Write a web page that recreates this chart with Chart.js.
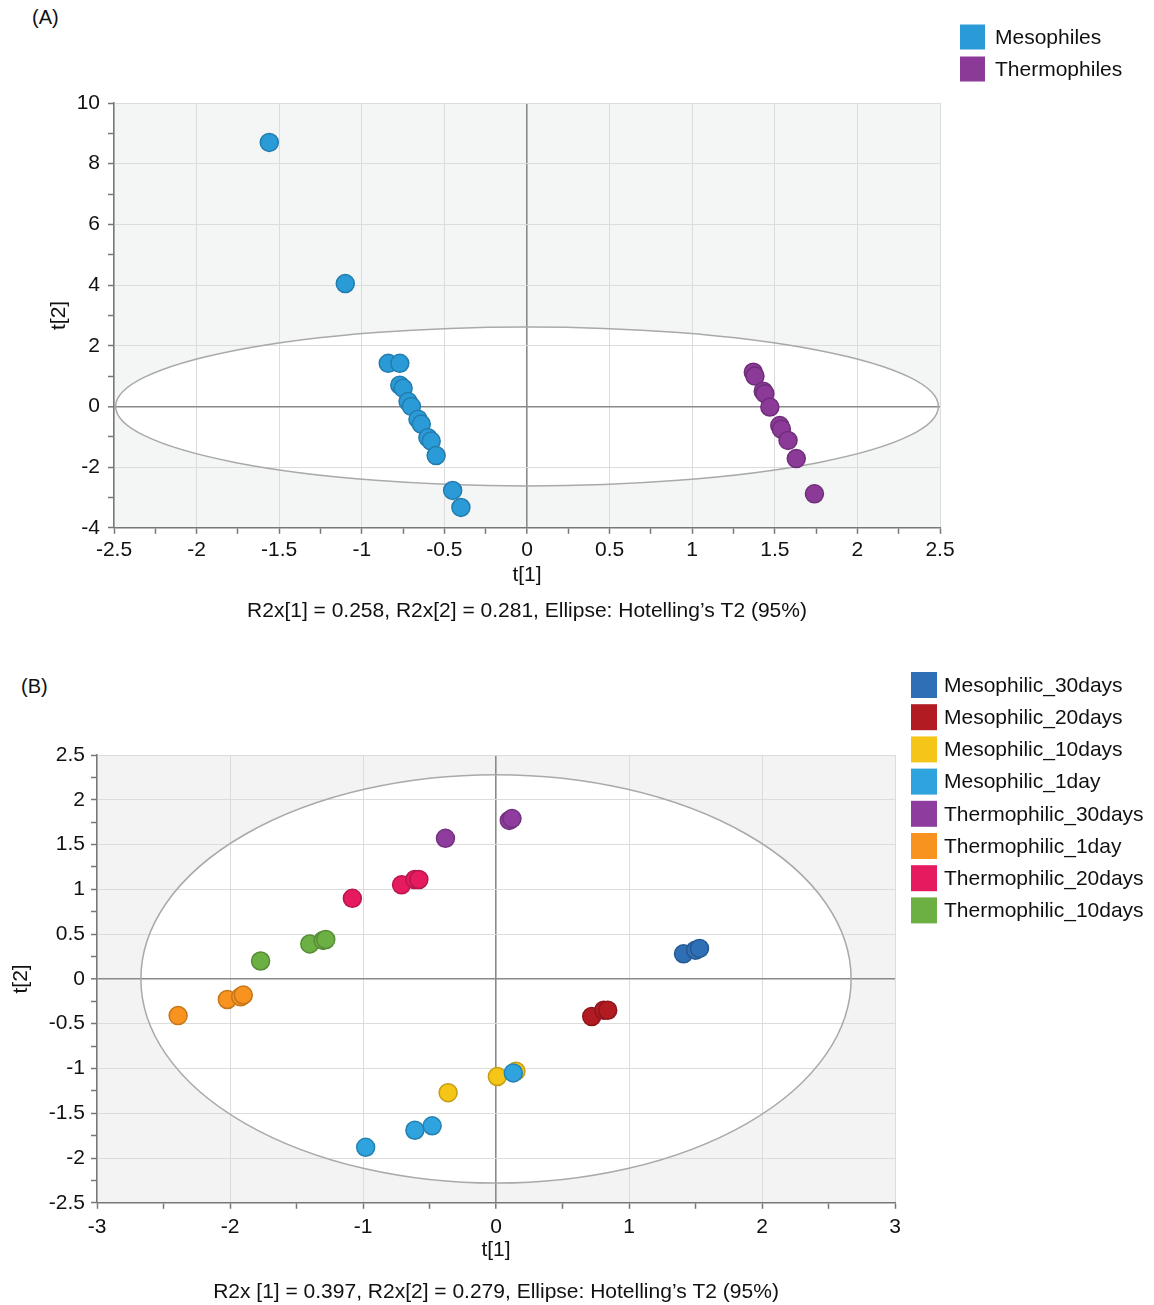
<!DOCTYPE html>
<html>
<head>
<meta charset="utf-8">
<script src="https://cdn.jsdelivr.net/npm/chart.js@4.4.1/dist/chart.umd.min.js"></script>
<style>
  body { margin: 0; background: #fff; }
  #page { position: relative; width: 1154px; height: 1305px; font-family: "Liberation Sans", Arial, sans-serif; }
  canvas { position: absolute; left: 0; }
  .tag { position: absolute; font-size: 20px; color: #111; }
</style>
</head>
<body>
<div id="page">
  <div class="tag" style="left:32px; top:6px;">(A)</div>
  <div class="tag" style="left:21px; top:675px;">(B)</div>
  <canvas id="chartA" width="1154" height="640" style="top:0"></canvas>
  <canvas id="chartB" width="1154" height="655" style="top:650px"></canvas>
</div>
<script>
// ---- panel A data (score plot, t[1] vs t[2])
const groupsA = ["Mesophiles", "Thermophiles"];
const colorsA = ["#2b9bd8", "#8b3a98"];
const mesoT1 = [-1.56, -1.10, -0.84, -0.77, -0.77, -0.75, -0.72, -0.70, -0.66, -0.64, -0.60, -0.58, -0.55, -0.45, -0.40];
const mesoT2 = [8.70, 4.05, 1.42, 1.42, 0.70, 0.60, 0.16, 0.00, -0.42, -0.58, -1.03, -1.14, -1.62, -2.77, -3.33];
const thermoT1 = [1.37, 1.38, 1.43, 1.44, 1.47, 1.53, 1.54, 1.58, 1.63, 1.74];
const thermoT2 = [1.13, 1.00, 0.50, 0.42, -0.02, -0.63, -0.75, -1.12, -1.72, -2.88];
const ellipseA = [2.49, 2.62]; // Hotelling's T2 semi-axes
const noteA = "R2x[1] = 0.258, R2x[2] = 0.281, Ellipse: Hotelling\u2019s T2 (95%)";

// ---- panel B data
const groupsB = ["Mesophilic_30days", "Mesophilic_20days", "Mesophilic_10days", "Mesophilic_1day",
  "Thermophilic_30days", "Thermophilic_1day", "Thermophilic_20days", "Thermophilic_10days"];
const colorsB = ["#2f6fb5", "#b31b23", "#f5c518", "#2ea3dd", "#8e3d9e", "#f7931e", "#e61b5f", "#6cb043"];
const m30T1 = [1.41, 1.50, 1.53];          const m30T2 = [0.28, 0.32, 0.34];
const m20T1 = [0.72, 0.81, 0.84];          const m20T2 = [-0.42, -0.35, -0.35];
const m10T1 = [-0.36, 0.01, 0.15];         const m10T2 = [-1.27, -1.09, -1.03];
const m1T1 = [-0.98, -0.61, -0.48, 0.13];  const m1T2 = [-1.88, -1.69, -1.64, -1.05];
const t30T1 = [-0.38, 0.10, 0.12];         const t30T2 = [1.57, 1.77, 1.79];
const t1T1 = [-2.39, -2.02, -1.92, -1.90]; const t1T2 = [-0.41, -0.23, -0.20, -0.18];
const t20T1 = [-1.08, -0.71, -0.61, -0.58]; const t20T2 = [0.90, 1.05, 1.11, 1.11];
const t10T1 = [-1.77, -1.40, -1.30, -1.28]; const t10T2 = [0.20, 0.39, 0.43, 0.44];
const ellipseB = [2.67, 2.28];
const noteB = "R2x [1] = 0.397, R2x[2] = 0.279, Ellipse: Hotelling\u2019s T2 (95%)";

const FONT = "'Liberation Sans', Arial, sans-serif";
const FS = 21;
const pairs = (xs, ys) => xs.map((v, i) => ({ x: v, y: ys[i] }));

// darker rim for each marker
const shade = (hex, f) => {
  const n = parseInt(hex.slice(1), 16);
  const r = Math.round(((n >> 16) & 255) * f), g = Math.round(((n >> 8) & 255) * f), b = Math.round((n & 255) * f);
  return `rgb(${r},${g},${b})`;
};

const makeDataset = (label, color, xs, ys, order = 0) => ({
  label: label,
  data: pairs(xs, ys),
  backgroundColor: color,
  borderColor: shade(color, 0.8),
  borderWidth: 1.5,
  pointRadius: 9,
  pointHoverRadius: 9,
  order: order,
});

// gray plot area, white ellipse inside, outline on top of the grid
const ellipsePlugin = {
  id: "ellipse",
  beforeDraw: (chart, args, opts) => {
    const { ctx, chartArea: a, scales: { x, y } } = chart;
    ctx.save();
    ctx.fillStyle = opts.plotColor;
    ctx.fillRect(a.left, a.top, a.width, a.height);
    const cx = x.getPixelForValue(0), cy = y.getPixelForValue(0);
    ctx.beginPath();
    ctx.ellipse(cx, cy, x.getPixelForValue(opts.rx) - cx, cy - y.getPixelForValue(opts.ry), 0, 0, Math.PI * 2);
    ctx.fillStyle = "#ffffff";
    ctx.fill();
    ctx.restore();
  },
  beforeDatasetsDraw: (chart, args, opts) => {
    const { ctx, scales: { x, y } } = chart;
    const cx = x.getPixelForValue(0), cy = y.getPixelForValue(0);
    ctx.save();
    ctx.beginPath();
    ctx.ellipse(cx, cy, x.getPixelForValue(opts.rx) - cx, cy - y.getPixelForValue(opts.ry), 0, 0, Math.PI * 2);
    ctx.strokeStyle = "#a9a9a9";
    ctx.lineWidth = 1.5;
    ctx.stroke();
    ctx.restore();
  },
};

// square-swatch legend off to the upper right
const boxLegend = {
  id: "boxLegend",
  afterDraw: (chart, args, opts) => {
    const ctx = chart.ctx;
    ctx.save();
    ctx.font = `${opts.size}px ${FONT}`;
    ctx.textBaseline = "middle";
    chart.data.datasets.forEach((ds, i) => {
      const yc = opts.y + i * opts.row;
      ctx.fillStyle = ds.backgroundColor;
      ctx.fillRect(opts.x, yc - opts.box / 2, opts.box, opts.box);
      ctx.fillStyle = "#111";
      ctx.fillText(ds.label, opts.x + opts.box + opts.gap, yc + 1);
    });
    ctx.restore();
  },
};

const near = (v, step) => Math.abs(v / step - Math.round(v / step)) < 1e-6;
const fmt = (v) => String(Math.round(v * 100) / 100);

const makeAxis = (o) => ({
  type: "linear",
  min: o.min,
  max: o.max,
  afterBuildTicks: (scale) => {
    const t = [];
    for (let v = o.min; v <= o.max + 1e-9; v += o.minor) t.push({ value: Math.round(v * 1000) / 1000 });
    scale.ticks = t;
  },
  afterFit: (scale) => {
    if (o.width) scale.width = o.width;
    if (o.height) scale.height = o.height;
  },
  border: { display: true, color: "#777", width: 1.5 },
  grid: {
    drawTicks: true,
    tickLength: 6,
    tickColor: "#777",
    tickWidth: 1.5,
    color: (c) => {
      const v = c.tick ? c.tick.value : NaN;
      if (Math.abs(v) < 1e-9) return "#8a8a8a";
      return near(v, o.major) ? "#dcdcdc" : "rgba(0,0,0,0)";
    },
    lineWidth: (c) => (c.tick && Math.abs(c.tick.value) < 1e-9 ? 1.6 : 1),
  },
  ticks: {
    autoSkip: false,
    maxRotation: 0,
    padding: o.pad,
    color: "#111",
    font: { family: FONT, size: FS },
    callback: (v) => (near(v, o.major) ? fmt(v) : ""),
  },
  title: {
    display: true,
    text: o.title,
    color: "#111",
    font: { family: FONT, size: FS },
    padding: o.titlePad,
  },
});

const makeChart = (id, datasets, o) =>
  new Chart(document.getElementById(id), {
    type: "scatter",
    data: { datasets: datasets },
    plugins: [ellipsePlugin, boxLegend],
    options: {
      responsive: false,
      animation: false,
      events: [],
      layout: { padding: o.padding },
      plugins: {
        legend: { display: false },
        tooltip: { enabled: false },
        title: {
          display: true,
          position: "bottom",
          fullSize: false,
          text: o.note,
          color: "#111",
          font: { family: FONT, size: FS, weight: "normal" },
          padding: { top: o.notePad, bottom: 0 },
        },
        ellipse: { rx: o.ellipse[0], ry: o.ellipse[1], plotColor: o.plotColor },
        boxLegend: o.legend,
      },
      scales: { x: o.x, y: o.y },
    },
  });

makeChart("chartA", [
  makeDataset(groupsA[0], colorsA[0], mesoT1, mesoT2),
  makeDataset(groupsA[1], colorsA[1], thermoT1, thermoT2),
], {
  padding: { left: 47, right: 214, top: 103, bottom: 16 },
  note: noteA,
  notePad: 11,
  ellipse: ellipseA,
  plotColor: "#f4f5f5",
  legend: { x: 960, y: 37, row: 32, box: 25, gap: 10, size: FS },
  x: makeAxis({ min: -2.5, max: 2.5, minor: 0.25, major: 0.5, height: 60, pad: 4, title: "t[1]", titlePad: { top: 0, bottom: 0 } }),
  y: makeAxis({ min: -4, max: 10, minor: 1, major: 2, width: 67, pad: 8, title: "t[2]", titlePad: { top: 0, bottom: 0 } }),
});

// yellow (10 days) sits under the 1-day blue point near t[1]=0.1
makeChart("chartB", [
  makeDataset(groupsB[0], colorsB[0], m30T1, m30T2),
  makeDataset(groupsB[1], colorsB[1], m20T1, m20T2),
  makeDataset(groupsB[2], colorsB[2], m10T1, m10T2, 1),
  makeDataset(groupsB[3], colorsB[3], m1T1, m1T2),
  makeDataset(groupsB[4], colorsB[4], t30T1, t30T2),
  makeDataset(groupsB[5], colorsB[5], t1T1, t1T2),
  makeDataset(groupsB[6], colorsB[6], t20T1, t20T2),
  makeDataset(groupsB[7], colorsB[7], t10T1, t10T2),
], {
  padding: { left: 8, right: 259, top: 105, bottom: 0 },
  note: noteB,
  notePad: 17,
  ellipse: ellipseB,
  plotColor: "#f3f3f3",
  legend: { x: 911, y: 35, row: 32.2, box: 26, gap: 7, size: FS },
  x: makeAxis({ min: -3, max: 3, minor: 0.5, major: 1, height: 60, pad: 6, title: "t[1]", titlePad: { top: 0, bottom: 0 } }),
  y: makeAxis({ min: -2.5, max: 2.5, minor: 0.25, major: 0.5, width: 89, pad: 6, title: "t[2]", titlePad: { top: 1, bottom: 0 } }),
});
</script>
</body>
</html>
